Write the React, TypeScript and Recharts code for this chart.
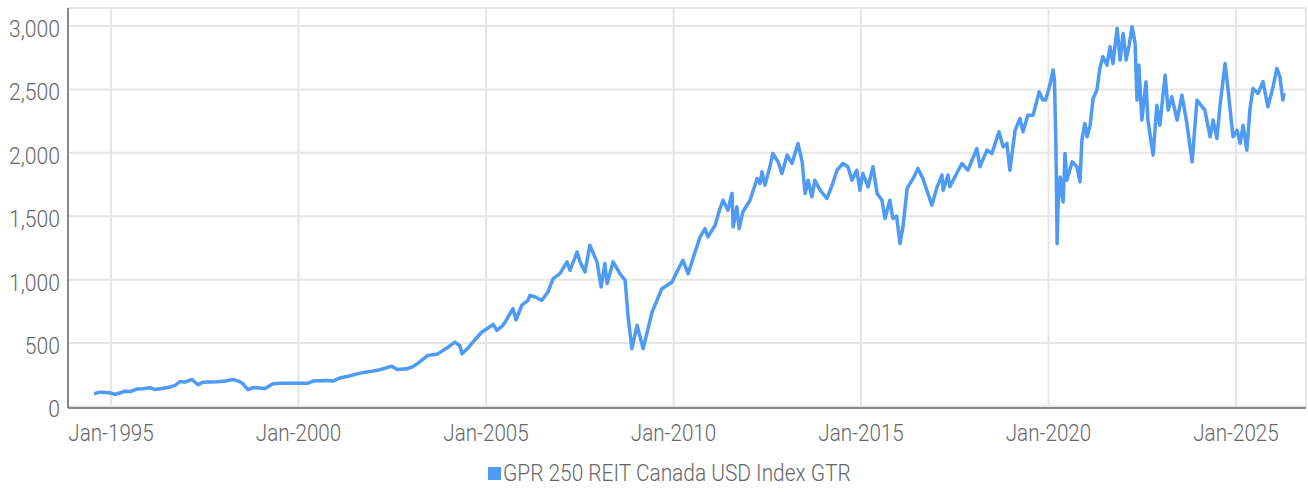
import React from 'react';
import { LineChart, Line, XAxis, YAxis, CartesianGrid, Legend } from 'recharts';

const seriesName = 'GPR 250 REIT Canada USD Index GTR';
const xTicks = [1995, 2000, 2005, 2010, 2015, 2020, 2025];
const yTicks = [0, 500, 1000, 1500, 2000, 2500, 3000];

const years = [
  1994.55, 1994.71, 1994.85, 1994.97, 1995.11, 1995.25, 1995.37, 1995.51, 1995.69, 1995.85,
  1996.04, 1996.17, 1996.36, 1996.55, 1996.71, 1996.84, 1996.97, 1997.16, 1997.32, 1997.45,
  1997.65, 1997.83, 1998.05, 1998.25, 1998.4, 1998.52, 1998.65, 1998.79, 1998.95, 1999.11,
  1999.32, 1999.51, 1999.75, 2000.0, 2000.25, 2000.39, 2000.55, 2000.76, 2000.92, 2001.11,
  2001.35, 2001.64, 2001.9, 2002.17, 2002.49, 2002.63, 2002.89, 2003.05, 2003.19, 2003.45,
  2003.69, 2003.95, 2004.17, 2004.3, 2004.36, 2004.5, 2004.65, 2004.89, 2005.03, 2005.19,
  2005.29, 2005.45, 2005.51, 2005.69, 2005.72, 2005.8, 2005.96, 2006.12, 2006.17, 2006.31,
  2006.49, 2006.65, 2006.79, 2006.97, 2007.16, 2007.24, 2007.43, 2007.51, 2007.64, 2007.77,
  2007.96, 2008.07, 2008.17, 2008.23, 2008.39, 2008.57, 2008.71, 2008.79, 2008.89, 2009.03,
  2009.19, 2009.43, 2009.69, 2009.96, 2010.09, 2010.25, 2010.39, 2010.6, 2010.71, 2010.84,
  2010.92, 2011.11, 2011.24, 2011.32, 2011.45, 2011.56, 2011.59, 2011.69, 2011.75, 2011.85,
  2012.04, 2012.23, 2012.31, 2012.36, 2012.44, 2012.57, 2012.65, 2012.79, 2012.89, 2013.03,
  2013.16, 2013.32, 2013.43, 2013.51, 2013.59, 2013.69, 2013.77, 2013.91, 2014.09, 2014.23,
  2014.36, 2014.52, 2014.65, 2014.76, 2014.89, 2014.97, 2015.05, 2015.19, 2015.32, 2015.43,
  2015.56, 2015.64, 2015.77, 2015.85, 2015.95, 2016.04, 2016.12, 2016.23, 2016.39, 2016.52,
  2016.65, 2016.89, 2017.03, 2017.16, 2017.19, 2017.32, 2017.37, 2017.69, 2017.85, 2018.09,
  2018.17, 2018.36, 2018.49, 2018.68, 2018.79, 2018.89, 2018.97, 2019.11, 2019.24, 2019.32,
  2019.45, 2019.59, 2019.75, 2019.85, 2019.92, 2020.0, 2020.07, 2020.12, 2020.16, 2020.2,
  2020.23, 2020.25, 2020.31, 2020.39, 2020.44, 2020.49, 2020.63, 2020.76, 2020.84, 2020.89,
  2020.97, 2021.03, 2021.11, 2021.19, 2021.29, 2021.37, 2021.45, 2021.56, 2021.64, 2021.72,
  2021.83, 2021.91, 2021.99, 2022.07, 2022.15, 2022.23, 2022.31, 2022.36, 2022.41, 2022.49,
  2022.6, 2022.65, 2022.79, 2022.89, 2022.97, 2023.11, 2023.19, 2023.29, 2023.43, 2023.56,
  2023.69, 2023.83, 2023.96, 2024.17, 2024.31, 2024.39, 2024.49, 2024.57, 2024.71, 2024.79,
  2024.92, 2025.03, 2025.11, 2025.19, 2025.29, 2025.37, 2025.45, 2025.59, 2025.72, 2025.85,
  2025.99, 2026.09, 2026.17, 2026.25, 2026.28,
];

const values = [
  100, 113, 110, 108, 95, 108, 121, 118, 137, 140,
  148, 134, 142, 152, 166, 197, 192, 213, 171, 192,
  193, 195, 200, 213, 200, 179, 132, 148, 146, 142,
  179, 184, 184, 184, 184, 200, 203, 205, 200, 225,
  240, 263, 275, 290, 318, 292, 297, 315, 342, 403,
  411, 460, 508, 480, 416, 455, 508, 587, 613, 647,
  600, 640, 666, 758, 771, 684, 800, 837, 876, 863,
  837, 902, 1008, 1048, 1140, 1074, 1218, 1140, 1060, 1271,
  1140, 942, 1127, 969, 1140, 1048, 995, 705, 456, 640,
  456, 745, 929, 981, 1060, 1153, 1048, 1240, 1337, 1403,
  1337, 1429, 1561, 1626, 1547, 1679, 1416, 1574, 1403, 1534,
  1626, 1798, 1758, 1850, 1745, 1890, 1995, 1929, 1837, 1982,
  1916, 2074, 1929, 1679, 1784, 1653, 1784, 1705, 1640, 1745,
  1863, 1916, 1890, 1784, 1863, 1705, 1837, 1732, 1890, 1679,
  1626, 1482, 1626, 1482, 1500, 1284, 1416, 1719, 1798, 1877,
  1798, 1587, 1732, 1824, 1705, 1824, 1732, 1916, 1863, 2034,
  1890, 2021, 1995, 2166, 2047, 2074, 1863, 2179, 2271, 2166,
  2297, 2297, 2481, 2416, 2416, 2495, 2574, 2653, 2574, 2021,
  1284, 1547, 1810, 1613, 1995, 1784, 1929, 1890, 1771, 2100,
  2232, 2126, 2218, 2429, 2495, 2666, 2758, 2692, 2837, 2705,
  2982, 2732, 2942, 2732, 2850, 2995, 2863, 2416, 2692, 2258,
  2561, 2258, 1982, 2376, 2218, 2613, 2337, 2442, 2258, 2455,
  2232, 1929, 2416, 2337, 2126, 2258, 2113, 2363, 2705, 2495,
  2126, 2179, 2074, 2218, 2021, 2337, 2508, 2469, 2561, 2363,
  2521, 2666, 2600, 2416, 2470,
];

const data = years.map((t, i) => ({ t, v: values[i] }));

const LINE = '#4e9af5';
const TEXT = '#666';
const FONT = 'Roboto, "Noto Sans", sans-serif';

function XTick(props: any) {
  const { x, y, payload } = props;
  return (
    <g transform={`translate(${x},${y})`}>
      <text transform="scale(0.86,1)" textAnchor="middle" dy={25} fontSize={24} fontWeight={300} fill={TEXT} fontFamily={FONT}>
        {`Jan-${payload.value}`}
      </text>
    </g>
  );
}

function YTick(props: any) {
  const { x, y, payload } = props;
  return (
    <g transform={`translate(${x},${y})`}>
      <text transform="scale(0.88,1)" textAnchor="end" dy={11} fontSize={24} fontWeight={300} fill={TEXT} fontFamily={FONT}>
        {Number(payload.value).toLocaleString('en-US')}
      </text>
    </g>
  );
}

function LegendContent() {
  return (
    <div style={{ position: 'relative', height: 45 }}>
      <div style={{ position: 'absolute', left: 488, top: 19, width: 13, height: 13, background: LINE }} />
      <span style={{
        position: 'absolute', left: 503, top: 11, fontFamily: FONT, fontSize: 24, fontWeight: 300,
        color: TEXT, whiteSpace: 'nowrap', transform: 'scaleX(0.87)', transformOrigin: 'left center', lineHeight: '28px',
      }}>
        {seriesName}
      </span>
    </div>
  );
}

export default function App() {
  return (
    <div style={{ position: 'absolute', left: 0, top: 0, width: 1308, height: 493, background: '#fff' }}>
      <LineChart width={1308} height={493} data={data} margin={{ top: 8, right: 2, bottom: 0, left: 0 }}>
        <CartesianGrid stroke="#e6e6e6" strokeWidth={2} />
        <XAxis
          type="number"
          dataKey="t"
          domain={[1993.853, 2026.867]}
          allowDataOverflow
          ticks={xTicks}
          interval={0}
          height={40}
          tickLine={false}
          axisLine={{ stroke: '#888', strokeWidth: 2 }}
          tick={<XTick />}
        />
        <YAxis
          type="number"
          domain={[-12, 3142]}
          allowDataOverflow
          ticks={yTicks}
          interval={0}
          width={68}
          tickLine={false}
          axisLine={{ stroke: '#888', strokeWidth: 2 }}
          tick={<YTick />}
        />
        <Legend verticalAlign="bottom" height={45} content={<LegendContent />} wrapperStyle={{ left: 0, width: 1308 }} />
        <Line
          type="linear"
          dataKey="v"
          name={seriesName}
          stroke={LINE}
          strokeWidth={3.5}
          strokeLinejoin="round"
          dot={false}
          isAnimationActive={false}
        />
      </LineChart>
    </div>
  );
}
